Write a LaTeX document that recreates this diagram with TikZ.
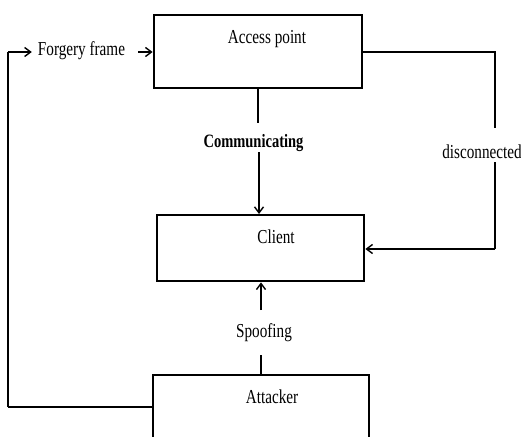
\documentclass[tikz,border=0pt]{standalone}
\usepackage{fontspec}
\setmainfont{Liberation Serif}
\usetikzlibrary{arrows.meta}
\newcommand{\tall}[1]{\scalebox{1}[1.3]{#1}}
\tikzset{
  box/.style={draw, line width=2.8pt, inner sep=0pt},
  lbl/.style={inner sep=1pt, font=\fontsize{15.2}{18}\selectfont},
  conn/.style={line width=1.4pt},
  arr/.style={conn, -{Straight Barb[length=6pt,width=9pt,line width=1.4pt]}}
}
\begin{document}
\begin{tikzpicture}[x=1pt,y=-1pt]
\useasboundingbox (0,0) rectangle (521,436);
\clip (0,0) rectangle (521,436);
% boxes
\node[box, minimum width=208pt, minimum height=73pt] (ap) at (258,51.5) {};
\node[box, minimum width=207pt, minimum height=66pt] (cl) at (260.5,248) {};
\node[box, minimum width=216pt, minimum height=80pt] (at) at (261,415) {};
% box texts
\node[lbl] (aptext) at (267,39) {\tall{Access point}};
\node[lbl] (cltext) at (276,237) {\tall{Client}};
\node[lbl] (attext) at (272,397) {\tall{Attacker}};
% labels
\node[lbl] (forg) at (81.5,51) {\tall{Forgery frame}};
\node[lbl, font=\fontsize{14.5}{17}\selectfont\bfseries] (comm) at (253.5,143) {\tall{Communicating}};
\node[lbl] (disc) at (482,152) {\tall{disconnected}};
\node[lbl] (spoof) at (264,333) {\tall{Spoofing}};
% helper coordinates
\coordinate (lt) at (8,52);
\coordinate (lb) at (8,407);
\coordinate (rt) at (495,52);
\coordinate (rb) at (495,249);
% connectors
\draw[conn, line width=2.4pt] (at.west |- lb) -- (lb);
\draw[conn] (lb) -- (lt);
\draw[arr, shorten >=5pt] (lt) -- (forg.west |- lt);
\draw[arr, shorten <=12pt] (forg.east |- lt) -- (ap.west |- lt);
\draw[conn] (ap.south) -- ++(0,34);
\draw[arr] (259,152) -- (259,214);
\draw[conn, line width=2.4pt] (ap.east |- rt) -- (rt) -- (rt |- 0,128);
\draw[conn] (rt |- 0,162) -- (rb);
\draw[arr] (rb) -- (cl.east |- rb);
\draw[arr] (261,310) -- (cl.south -| 261,0);
\draw[conn] (261,355) -- (at.north -| 261,0);
\end{tikzpicture}
\end{document}
